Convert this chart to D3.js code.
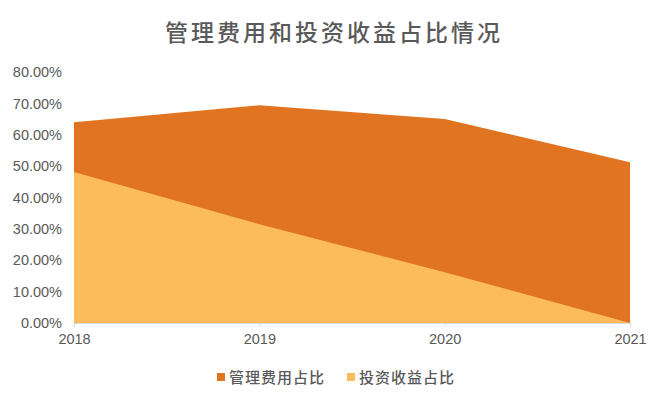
<!doctype html>
<html lang="zh">
<head>
<meta charset="utf-8">
<title>管理费用和投资收益占比情况</title>
<script src="https://cdnjs.cloudflare.com/ajax/libs/d3/7.8.5/d3.min.js"></script>
<style>
  body { margin: 0; background: #fff; }
  text { font-family: "Liberation Sans", "Noto Sans CJK SC", sans-serif; fill: #595959; }
</style>
</head>
<body>
<svg id="chart"></svg>
<script>
    // data
    const years = ["2018", "2019", "2020", "2021"];
    const mgmtShare = [0.640, 0.694, 0.650, 0.512];   // 管理费用占比
    const investShare = [0.481, 0.315, 0.162, 0.0];  // 投资收益占比
    const seriesNames = ["管理费用占比", "投资收益占比"];
    const seriesColors = ["#E07421", "#FCBC5C"];
    const yTicks = [0, 0.1, 0.2, 0.3, 0.4, 0.5, 0.6, 0.7, 0.8];

    const W = 670, H = 401;
    const margin = { top: 72, right: 40, bottom: 78, left: 74 };

    const svg = d3.select("#chart").attr("width", W).attr("height", H);

    const x = d3.scalePoint().domain(years).range([margin.left, W - margin.right]);
    const y = d3.scaleLinear().domain([0, 0.8]).range([H - margin.bottom, margin.top]);

    // title
    svg.append("text")
        .attr("x", W / 2 - 1).attr("y", 41)
        .attr("text-anchor", "middle")
        .style("font-size", "23px")
        .style("font-weight", "500")
        .style("letter-spacing", "3px")
        .style("font-family", "'Noto Sans CJK SC', sans-serif")
        .text("管理费用和投资收益占比情况");

    // areas (overlapping, second series drawn in front)
    const area = d3.area()
        .x((d, i) => x(years[i]))
        .y0(y(0))
        .y1(d => y(d));

    [mgmtShare, investShare].forEach((vals, k) => {
        svg.append("path")
            .datum(vals)
            .attr("d", area)
            .attr("fill", seriesColors[k]);
    });

    // y axis labels
    const yAxis = d3.axisLeft(y).tickValues(yTicks).tickFormat(d3.format(".2%")).tickSize(0).tickPadding(12);
    const gy = svg.append("g").attr("transform", `translate(${margin.left},0)`).call(yAxis);
    gy.select(".domain").remove();
    gy.selectAll("text").style("font-size", "14.5px").style("fill", "#595959");

    // x axis
    const xAxis = d3.axisBottom(x).tickSize(4).tickPadding(7);
    const gx = svg.append("g").attr("transform", `translate(0,${y(0)})`).call(xAxis);
    gx.select(".domain").attr("stroke", "#D9D9D9").attr("stroke-width", 1.2);
    gx.selectAll(".tick line").attr("stroke", "#D9D9D9");
    gx.selectAll("text").style("font-size", "14.5px").style("fill", "#595959");

    // legend
    const legend = svg.append("g").attr("transform", "translate(217,377)");
    const items = legend.selectAll("g").data(seriesNames).enter().append("g")
        .attr("transform", (d, i) => `translate(${i * 130},0)`);
    items.append("rect")
        .attr("x", 0).attr("y", -4).attr("width", 8).attr("height", 8)
        .attr("fill", (d, i) => seriesColors[i]);
    items.append("text")
        .attr("x", 12).attr("y", 6)
        .style("font-size", "15px")
        .style("letter-spacing", "1px")
        .style("font-weight", "500")
        .style("font-family", "'Noto Sans CJK SC', sans-serif")
        .text(d => d);
</script>
</body>
</html>
